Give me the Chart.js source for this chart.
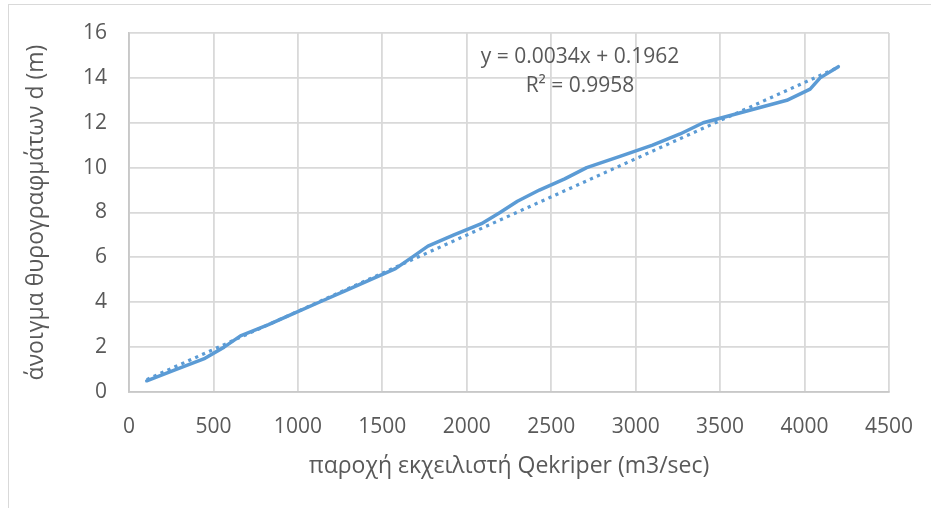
<!DOCTYPE html>
<html>
<head>
<meta charset="utf-8">
<script src="https://cdn.jsdelivr.net/npm/chart.js@4/dist/chart.umd.min.js"></script>
<style>
  html, body { margin: 0; padding: 0; background: #ffffff; overflow: hidden; }
  #frame { position: absolute; left: 8px; top: 4px; width: 1000px; height: 600px; border: 1px solid #d9d9d9; box-sizing: border-box; }
  #wrap { position: absolute; left: 0; top: 0; width: 931px; height: 508px; }
</style>
</head>
<body>
<div id="frame"></div>
<div id="wrap"><canvas id="chart" width="931" height="508"></canvas></div>
<script>
// Spillway discharge (m3/sec) against gate opening d (m)
const flow = [105, 276, 450, 563, 660, 826, 976, 1126, 1276, 1427, 1578, 1675, 1770, 1924, 2087,
              2197, 2300, 2430, 2580, 2710, 2907, 3100, 3263, 3400, 3648, 3895, 4033, 4092, 4200];
const opening = [0.5, 1, 1.5, 2, 2.5, 3, 3.5, 4, 4.5, 5, 5.5, 6, 6.5, 7, 7.5,
                 8, 8.5, 9, 9.5, 10, 10.5, 11, 11.5, 12, 12.5, 13, 13.5, 14, 14.5];

// Linear trendline as stated in its label
const trendSlope = 0.0034;
const trendIntercept = 0.1962;
const trendR2 = 0.9958;

const xTicks = [0, 500, 1000, 1500, 2000, 2500, 3000, 3500, 4000, 4500];
const yTicks = [0, 2, 4, 6, 8, 10, 12, 14, 16];

const xTitle = 'παροχή εκχειλιστή Qekriper (m3/sec)';
const yTitle = 'άνοιγμα θυρογραφμάτων d (m)';

const BLUE = '#5B9BD5';
const TEXT = '#595959';
const FONT = "'Open Sans', sans-serif";

const seriesPoints = flow.map((q, i) => ({ x: q, y: opening[i] }));
const trendEnds = [flow[0], flow[flow.length - 1]];
const trendPoints = trendEnds.map(q => ({ x: q, y: trendSlope * q + trendIntercept }));

// Trendline equation text drawn inside the plot
const equationLabel = {
  id: 'equationLabel',
  afterDatasetsDraw(chart) {
    const ctx = chart.ctx;
    ctx.save();
    ctx.fillStyle = TEXT;
    ctx.font = "21px " + FONT;
    ctx.textAlign = 'center';
    ctx.textBaseline = 'middle';
    ctx.fillText('y = ' + trendSlope.toFixed(4) + 'x + ' + trendIntercept.toFixed(4), 580, 57);
    ctx.fillText('R² = ' + trendR2.toFixed(4), 580, 86);
    ctx.restore();
  }
};

new Chart(document.getElementById('chart'), {
  type: 'scatter',
  data: {
    datasets: [
      {
        label: 'trend',
        data: trendPoints,
        showLine: true,
        borderColor: BLUE,
        borderWidth: 3.2,
        borderDash: [3.2, 4.4],
        borderCapStyle: 'butt',
        pointRadius: 0,
        fill: false
      },
      {
        label: 'd',
        data: seriesPoints,
        showLine: true,
        borderColor: BLUE,
        borderWidth: 3.5,
        borderJoinStyle: 'round',
        borderCapStyle: 'round',
        pointRadius: 0,
        tension: 0,
        fill: false
      }
    ]
  },
  options: {
    responsive: false,
    animation: false,
    devicePixelRatio: 1,
    layout: { padding: { top: 33, right: 42, left: 0, bottom: 0 } },
    plugins: {
      legend: { display: false },
      tooltip: { enabled: false }
    },
    scales: {
      x: {
        type: 'linear',
        min: xTicks[0],
        max: xTicks[xTicks.length - 1],
        afterBuildTicks(scale) { scale.ticks = xTicks.map(v => ({ value: v })); },
        afterFit(scale) { scale.height = 116; scale.paddingLeft = 0; scale.paddingRight = 0; },
        grid: { color: '#d9d9d9', lineWidth: 1.8, drawTicks: false },
        border: { color: '#c8c8c8', width: 1.8 },
        ticks: { color: TEXT, font: { family: FONT, size: 21 }, padding: 22, maxRotation: 0,
                 callback: v => String(v) },
        title: { display: true, text: xTitle, color: TEXT, font: { family: FONT, size: 23 }, padding: { top: 0, bottom: 28 } }
      },
      y: {
        type: 'linear',
        min: yTicks[0],
        max: yTicks[yTicks.length - 1],
        afterBuildTicks(scale) { scale.ticks = yTicks.map(v => ({ value: v })); },
        afterFit(scale) { scale.width = 129; scale.paddingTop = 0; scale.paddingBottom = 0; },
        grid: { color: '#d9d9d9', lineWidth: 1.8, drawTicks: false },
        border: { color: '#c8c8c8', width: 1.8 },
        ticks: { color: TEXT, font: { family: FONT, size: 21 }, padding: 22,
                 callback: v => String(v) },
        title: { display: true, text: yTitle, color: TEXT, font: { family: FONT, size: 23 }, padding: { top: 23, bottom: 0 } }
      }
    }
  },
  plugins: [equationLabel]
});
</script>
</body>
</html>
